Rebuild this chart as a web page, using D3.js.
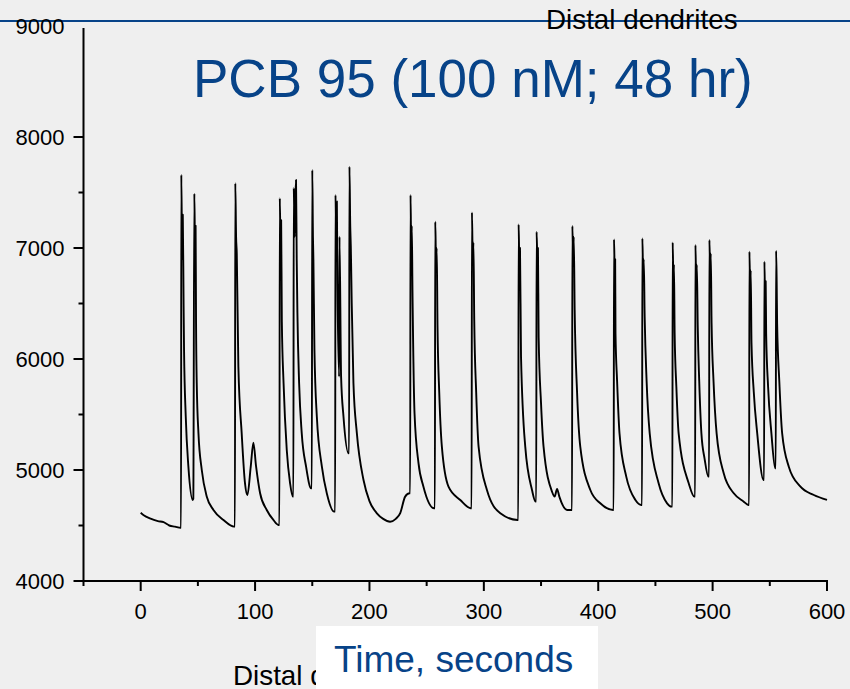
<!DOCTYPE html>
<html>
<head>
<meta charset="utf-8">
<script src="https://cdn.jsdelivr.net/npm/d3@7"></script>
<style>
  html, body { margin: 0; padding: 0; background: #efefef; }
  svg { display: block; }
  text { font-family: "Liberation Sans", Arial, sans-serif; }
</style>
</head>
<body>
<svg id="chart" width="850" height="689"></svg>
<script>
// ---- Data ----
const xTickValues = [0, 100, 200, 300, 400, 500, 600];
const xMinorTicks = [-50, 50, 150, 250, 350, 450, 550];
const yTickValues = [4000, 5000, 6000, 7000, 8000, 9000];
const yMinorTicks = [4500, 5500, 6500, 7500];

// fluorescence trace: time (s) and intensity
const traceTime = [
  0, 3, 8, 15, 20, 25, 30, 35,
  35.3, 35.5, 36.3, 36.8, 37.5, 37.9, 39.4, 41.7, 45.5,
  46.0, 46.9, 47.5, 48.0, 48.4, 49.0, 50.5, 53.4, 57.8, 63.6, 72.4, 81.6,
  82.4, 82.7, 83.4, 84.0, 85.4, 88.3, 91.2, 93.3, 96.2, 98.5, 100.9, 104.4, 110.2, 116.0, 120.4,
  121.3, 121.6, 122.3, 122.8, 123.4, 124.9, 127.7, 130.6, 133.0,
  133.5, 133.8, 134.6, 135.3, 135.8, 136.4, 137.0, 138.5, 140.8, 144.6, 149.0,
  149.6, 150.0, 150.6, 151.0, 151.9, 154.0, 158.4, 162.7, 169.1,
  170.0, 170.3, 171.0, 171.5, 172.0, 173.5, 173.8, 175.2, 177.3, 181.7,
  182.2, 182.5, 183.2, 183.7, 184.5, 186.0, 189.0, 194.8, 200.0, 206.5, 212.0, 218.0, 223.0, 226.9, 231.2, 235.0,
  235.6, 235.9, 236.5, 237.0, 237.6, 239.4, 242.9, 247.2, 256.6,
  257.2, 257.5, 258.2, 258.8, 259.5, 261.0, 263.3, 269.1, 279.4, 288.7,
  289.3, 289.6, 290.3, 290.9, 291.6, 293.3, 295.4, 302.7, 314.4, 329.5,
  330.1, 330.4, 331.0, 331.6, 332.5, 336.2, 342.1, 345.2,
  345.8, 346.1, 346.8, 347.3, 347.9, 350.0, 352.2, 359.6, 361.9, 364.0, 366.0, 372.7, 376.5,
  377.1, 377.4, 378.0, 378.6, 379.4, 381.5, 384.3, 393.1, 401.8, 413.0,
  413.5, 413.8, 414.4, 414.8, 415.1, 416.5, 418.6, 424.5, 432.5, 437.7,
  438.3, 438.6, 439.2, 439.8, 440.6, 442.3, 445.0, 452.8, 460.2, 464.0,
  464.8, 465.1, 465.7, 466.2, 466.8, 468.3, 470.3, 479.1, 484.0,
  484.7, 485.0, 485.6, 486.2, 487.0, 488.3, 490.2, 493.0, 496.3,
  496.9, 497.2, 497.8, 498.4, 499.1, 500.8, 503.5, 509.7, 518.5, 527.2, 531.3,
  531.9, 532.2, 532.8, 533.3, 534.0, 536.0, 539.0, 544.5,
  545.0, 545.3, 545.9, 546.4, 546.8, 548.5, 551.4, 554.7,
  555.2, 555.5, 556.0, 556.4, 558.3, 560.8, 566.6, 576.8, 588.5, 600.0
];
const traceValue = [
  4615, 4590, 4565, 4540, 4530, 4500, 4490, 4480,
  4480, 7660, 6900, 7300, 6500, 6081, 5480, 5030, 4730,
  4740, 7490, 7000, 7200, 6322, 5784, 5330, 5000, 4760, 4640, 4550, 4490,
  4490, 7583, 7100, 6950, 5931, 5330, 4880, 4775, 5030, 5246, 5030, 4790, 4640, 4550, 4505,
  4505, 7448, 7000, 7250, 6336, 5784, 5180, 4880, 4760,
  4760, 7540, 7100, 7450, 7613, 6900, 6420, 5784, 5330, 5030, 4835,
  4835, 7703, 7100, 6892, 6081, 5480, 5030, 4790, 4625,
  4625, 7477, 7000, 7420, 6682, 5841, 7102, 5841, 5480, 5150,
  5150, 7733, 7200, 7012, 6500, 5781, 5330, 4910, 4720, 4610, 4560, 4534, 4560, 4612, 4760, 4790,
  4790, 7477, 7000, 7200, 6622, 5511, 5060, 4850, 4655,
  4655, 7237, 6900, 7000, 6292, 5700, 5210, 4850, 4730, 4655,
  4655, 7321, 6900, 7050, 6351, 5700, 5210, 4820, 4610, 4550,
  4550, 7213, 6900, 7000, 6021, 5210, 4820, 4715,
  4715, 7147, 6900, 7000, 6201, 5600, 5210, 4805, 4760, 4830, 4760, 4640, 4640,
  4640, 7198, 6900, 7100, 6441, 5700, 5210, 4820, 4700, 4640,
  4640, 7078, 6800, 6900, 6231, 5800, 5330, 4940, 4730, 4685,
  4685, 7087, 6800, 6900, 6381, 5800, 5330, 4880, 4700, 4670,
  4670, 7051, 6700, 6850, 6231, 5750, 5330, 4880, 4760,
  4760, 7027, 6700, 6850, 6292, 5800, 5330, 5100, 4940,
  4940, 7072, 6800, 6950, 6321, 5800, 5330, 4970, 4790, 4715, 4685,
  4685, 6967, 6600, 6800, 6141, 5700, 5330, 4910,
  4910, 6877, 6500, 6700, 6231, 5750, 5330, 5015,
  5015, 6976, 6700, 6321, 5800, 5330, 5030, 4850, 4775, 4730
];

const titleText = "PCB 95 (100 nM; 48 hr)";
const topLabel = "Distal dendrites";
const bottomLabel = "Distal dendrites";
const xAxisTitle = "Time, seconds";

// ---- Drawing ----
const svg = d3.select("#chart");
const blue = "#074388";

const x = d3.scaleLinear().domain([-50, 600]).range([83.5, 827]);
const y = d3.scaleLinear().domain([4000, 9000]).range([581, 26]);

// blue rule at top
svg.append("line")
  .attr("x1", 0).attr("x2", 850).attr("y1", 21).attr("y2", 21)
  .attr("stroke", blue).attr("stroke-width", 2);

// y axis
const yAxisG = svg.append("g").attr("transform", `translate(${x(-50)},0)`);
yAxisG.append("line")
  .attr("x1", 0).attr("x2", 0).attr("y1", 28).attr("y2", y(4000) + 1)
  .attr("stroke", "#000").attr("stroke-width", 2);
yAxisG.selectAll("line.major").data(yTickValues.filter(v => v < 9000)).join("line")
  .attr("class", "major")
  .attr("x1", -10).attr("x2", 0).attr("y1", d => y(d)).attr("y2", d => y(d))
  .attr("stroke", "#000").attr("stroke-width", 2);
yAxisG.selectAll("line.minor").data(yMinorTicks).join("line")
  .attr("class", "minor")
  .attr("x1", -5).attr("x2", 0).attr("y1", d => y(d)).attr("y2", d => y(d))
  .attr("stroke", "#000").attr("stroke-width", 2);
yAxisG.selectAll("text").data(yTickValues).join("text")
  .attr("x", -19).attr("y", d => y(d)).attr("dy", "0.36em")
  .attr("text-anchor", "end").attr("font-size", 22).attr("fill", "#000")
  .text(d => d);

// x axis
const xAxisG = svg.append("g").attr("transform", `translate(0,${y(4000)})`);
xAxisG.append("line")
  .attr("x1", x(-50) - 1).attr("x2", x(600) + 1).attr("y1", 0).attr("y2", 0)
  .attr("stroke", "#000").attr("stroke-width", 2);
xAxisG.selectAll("line.major").data(xTickValues).join("line")
  .attr("class", "major")
  .attr("x1", d => x(d)).attr("x2", d => x(d)).attr("y1", 0).attr("y2", 10)
  .attr("stroke", "#000").attr("stroke-width", 2);
xAxisG.selectAll("line.minor").data(xMinorTicks).join("line")
  .attr("class", "minor")
  .attr("x1", d => x(d)).attr("x2", d => x(d)).attr("y1", 0).attr("y2", 5)
  .attr("stroke", "#000").attr("stroke-width", 2);
xAxisG.selectAll("text").data(xTickValues).join("text")
  .attr("x", d => x(d)).attr("y", 38)
  .attr("text-anchor", "middle").attr("font-size", 22).attr("fill", "#000")
  .text(d => d);

// trace
const pts = traceTime.map((t, i) => [t, traceValue[i]]);
const line = d3.line().x(d => x(d[0])).y(d => y(d[1])).curve(d3.curveMonotoneX);
svg.append("path")
  .attr("d", line(pts))
  .attr("fill", "none").attr("stroke", "#000").attr("stroke-width", 1.9)
  .attr("stroke-linejoin", "round");

// labels
svg.append("text")
  .attr("x", 546).attr("y", 29)
  .attr("font-size", 27.8).attr("fill", "#000")
  .text(topLabel);

svg.append("text")
  .attr("x", 193).attr("y", 97)
  .attr("font-size", 53).attr("fill", blue)
  .text(titleText);

svg.append("text")
  .attr("x", 233).attr("y", 685)
  .attr("font-size", 27.8).attr("fill", "#000")
  .text(bottomLabel);

svg.append("rect")
  .attr("x", 316).attr("y", 626).attr("width", 282).attr("height", 63)
  .attr("fill", "#ffffff");

svg.append("text")
  .attr("x", 334).attr("y", 672)
  .attr("font-size", 37).attr("fill", blue)
  .text(xAxisTitle);
</script>
</body>
</html>
